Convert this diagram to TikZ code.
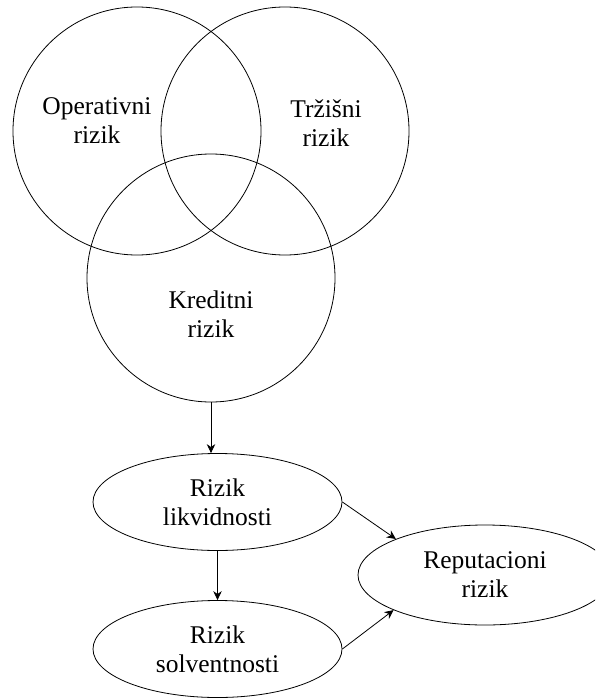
\documentclass[tikz,border=0pt]{standalone}
\usepackage{fontspec}
\setmainfont{Liberation Serif}
\usetikzlibrary{shapes.geometric,arrows.meta}

\begin{document}
\begin{tikzpicture}[x=1pt, y=-1pt, line width=0.8pt, >={Stealth[length=9pt,width=8.5pt]},
  venn/.style = {draw, circle, minimum size=248pt, inner sep=0pt},
  txt/.style = {align=center, inner sep=0pt, font=\fontsize{25.5}{29}\selectfont},
  main/.style = {draw, ellipse, minimum width=249pt, minimum height=97pt, inner sep=0pt, align=center, font=\fontsize{25.5}{29}\selectfont}]

			\clip (0,0) rectangle (595,698);

			\node[venn] (O) at (137,131) {};
			\node[venn] (T) at (285,131) {};
			\node[venn] (K) at (211,278) {};

			\node[txt] (Ot) at (97,121) {Operativni\\rizik};
			\node[txt] (Tt) at (326,123) {Tržišni\\rizik};
			\node[txt] (Kt) at (211,314) {Kreditni\\rizik};

			\node[main] (L) at (217.5,502) {Rizik\\likvidnosti};
			\node[main] (S) at (217.5,649) {Rizik\\solventnosti};
			\node[main, minimum width=254pt, minimum height=100pt] (R) at (485,575) {Reputacioni\\rizik};

			\draw[->] (K.south) -- (K.south |- L.north);
			\draw[->] (L) -- (S);
			\draw[->] (L.east) -- (R.158);
			\draw[->] (S.east) -- (R.201);
		\end{tikzpicture}
\end{document}
